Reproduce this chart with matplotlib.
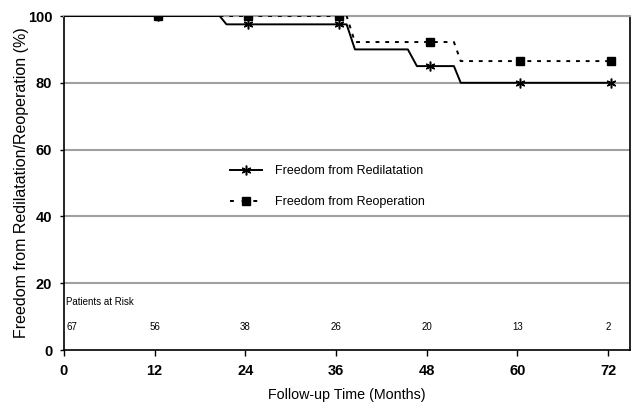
import matplotlib.pyplot as plt

plt.rcParams['font.family'] = ['Liberation Sans', 'DejaVu Sans']

# Kaplan-Meier style curves (months, %)
redil_t = [0, 20.6, 21.5, 37.4, 38.5, 45.5, 46.7, 51.6, 52.5, 72.5]
redil_v = [100, 100, 97.5, 97.5, 90, 90, 85, 85, 80, 80]
reop_t = [0, 37.4, 38.5, 51.6, 52.5, 72.5]
reop_v = [100, 100, 92.2, 92.2, 86.5, 86.5]

# yearly markers
mark_t = [12.4, 24.4, 36.4, 48.4, 60.4, 72.4]
redil_mark = [100, 97.5, 97.5, 85, 80, 80]
reop_mark = [100, 100, 100, 92.2, 86.5, 86.5]

risk_t = [0, 12, 24, 36, 48, 60, 72]
risk_n = [67, 56, 38, 26, 20, 13, 2]

fig = plt.figure(figsize=(6.32, 4.04), dpi=100)
ax = fig.add_axes([64 / 632, 1 - 350 / 404, 566 / 632, 334 / 404])

for y in [20, 40, 60, 80, 100]:
    ax.axhline(y, color='#a0a0a0', lw=1.5, zorder=1)

ax.plot(redil_t, redil_v, color='black', lw=1.4, zorder=3)
ax.plot(reop_t, reop_v, color='black', lw=1.4, ls=(0, (2, 3)), zorder=3)
ax.plot(mark_t, redil_mark, ls='none', marker=(6, 2, 0), ms=7, mew=1.1,
        color='black', zorder=4)
ax.plot(mark_t, reop_mark, ls='none', marker='s', ms=6, color='black', zorder=5)

# legend proxies
h1, = ax.plot([], [], color='black', lw=1.4, marker=(6, 2, 0), ms=7, mew=1.1)
h2, = ax.plot([], [], color='black', lw=1.4, ls=(0, (2, 4)), marker='s', ms=6)
ax.legend([h1, h2], ['Freedom from Redilatation', 'Freedom from Reoperation'],
          loc='upper left', bbox_to_anchor=(0.293, 0.553), frameon=False,
          fontsize=9, handlelength=2.6, handletextpad=1.0, labelspacing=1.5,
          borderpad=0, borderaxespad=0)

ax.text(0.3, 14.4, 'Patients at Risk', fontsize=7, va='center', ha='left')
for t, n in zip(risk_t, risk_n):
    if t == 0:
        ax.text(0.3, 7.0, str(n), fontsize=7, va='center', ha='left')
    else:
        ax.text(t, 7.0, str(n), fontsize=7, va='center', ha='center')

ax.set_xlim(0, 74.9)
ax.set_ylim(0, 100)
ax.set_xticks(range(0, 73, 12))
ax.set_yticks(range(0, 101, 20))
ax.tick_params(axis='x', direction='out', length=4, width=1,
               labelsize=10.5, pad=6)
ax.tick_params(axis='y', direction='out', length=3, width=1,
               labelsize=10.5, pad=5.5)
for lab in ax.get_xticklabels() + ax.get_yticklabels():
    lab.set_fontweight('bold')

ax.spines['top'].set_color('#a0a0a0')
ax.spines['top'].set_linewidth(1.5)
for s in ['left', 'bottom', 'right']:
    ax.spines[s].set_linewidth(1.2)

ax.set_xlabel('Follow-up Time (Months)', fontsize=10.3, labelpad=7)
ax.set_ylabel('Freedom from Redilatation/Reoperation (%)', fontsize=11.5)
ax.yaxis.set_label_coords(-0.0618, 0.5)

fig.savefig('out.png', dpi=100)
